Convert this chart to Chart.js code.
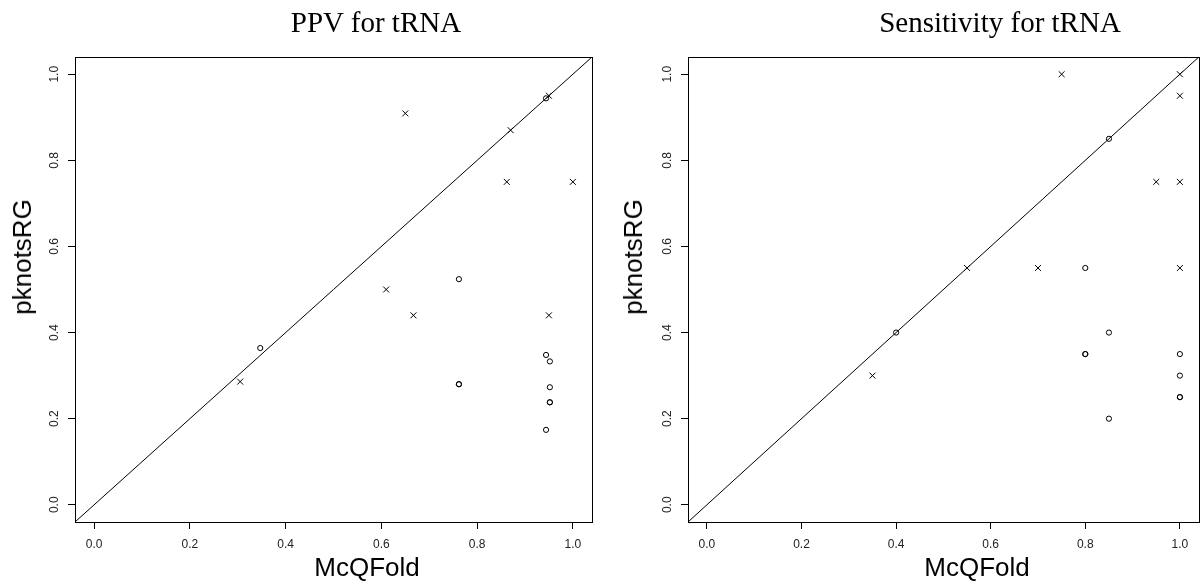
<!DOCTYPE html>
<html>
<head>
<meta charset="utf-8">
<script src="https://cdn.jsdelivr.net/npm/chart.js@4.4.1/dist/chart.umd.min.js"></script>
<style>
  body { margin: 0; background: #fff; }
  #wrap { position: relative; width: 1204px; height: 585px; overflow: hidden; }
  canvas { position: absolute; top: 0; }
  .title { position: absolute; font-family: "Liberation Serif", "Times New Roman", serif; font-size: 29px; line-height: 29px; white-space: nowrap; transform: translateX(-50%); color: #000; }
  .xlab { position: absolute; font-family: "Liberation Sans", Arial, sans-serif; font-size: 26px; line-height: 26px; white-space: nowrap; transform: translateX(-50%); color: #000; }
  .ylab { position: absolute; font-family: "Liberation Sans", Arial, sans-serif; font-size: 26px; line-height: 26px; white-space: nowrap; transform: translate(-50%, -50%) rotate(-90deg); color: #000; }
</style>
</head>
<body>
<div id="wrap">
  <canvas id="ppvChart" width="602" height="585" style="left:0"></canvas>
  <canvas id="sensChart" width="602" height="585" style="left:602px"></canvas>
  <div class="title" style="left:376px; top:8px">PPV for tRNA</div>
  <div class="title" style="left:1000px; top:8px">Sensitivity for tRNA</div>
  <div class="xlab" style="left:367px; top:554px">McQFold</div>
  <div class="xlab" style="left:977px; top:554px">McQFold</div>
  <div class="ylab" style="left:22px; top:257px">pknotsRG</div>
  <div class="ylab" style="left:633px; top:257px">pknotsRG</div>
</div>
<script>
// axis setup (R style: 4% expansion around 0..1)
const axisMin = -0.04;
const axisMax = 1.04;
const tickValues = [0, 0.2, 0.4, 0.6, 0.8, 1.0];
const tickLabels = ['0.0', '0.2', '0.4', '0.6', '0.8', '1.0'];

// PPV panel
const ppvCrossX = [0.305, 0.65, 0.87, 0.95, 0.862, 1.0, 0.61, 0.667, 0.95];
const ppvCrossY = [0.286, 0.909, 0.87, 0.95, 0.75, 0.75, 0.5, 0.44, 0.44];
const ppvCircleX = [0.347, 0.944, 0.762, 0.762, 0.762, 0.944, 0.952, 0.952, 0.952, 0.952, 0.944];
const ppvCircleY = [0.364, 0.944, 0.524, 0.28, 0.28, 0.348, 0.333, 0.273, 0.238, 0.238, 0.174];

// Sensitivity panel
const sensCrossX = [0.35, 0.55, 0.7, 0.75, 1.0, 1.0, 0.95, 1.0, 1.0];
const sensCrossY = [0.3, 0.55, 0.55, 1.0, 1.0, 0.95, 0.75, 0.75, 0.55];
const sensCircleX = [0.4, 0.85, 0.8, 0.8, 0.8, 0.85, 0.85, 1.0, 1.0, 1.0, 1.0];
const sensCircleY = [0.4, 0.85, 0.55, 0.35, 0.35, 0.4, 0.2, 0.35, 0.3, 0.25, 0.25];

const tickFont = { family: '"Liberation Sans", Arial, sans-serif', size: 12 };

function toPoints(xs, ys) {
    return xs.map((x, i) => ({ x: x, y: ys[i] }));
}

// box round the plot region + rotated y tick labels
const rBoxPlugin = {
    id: 'rBox',
    afterDraw(chart) {
        const { ctx, chartArea: a } = chart;
        ctx.save();
        ctx.strokeStyle = '#000';
        ctx.lineWidth = 1;
        ctx.strokeRect(Math.round(a.left) + 0.5, Math.round(a.top) + 0.5,
            Math.round(a.right - a.left), Math.round(a.bottom - a.top));

        const yScale = chart.scales.y;
        ctx.fillStyle = '#222';
        ctx.font = `${tickFont.size}px ${tickFont.family}`;
        ctx.textAlign = 'center';
        ctx.textBaseline = 'middle';
        tickValues.forEach((v, i) => {
            const py = yScale.getPixelForValue(v);
            ctx.save();
            ctx.translate(a.left - 20, py);
            ctx.rotate(-Math.PI / 2);
            ctx.fillText(tickLabels[i], 0, 0);
            ctx.restore();
        });
        ctx.restore();
    }
};

function makePanel(id, crossX, crossY, circleX, circleY, leftWidth, rightPad) {
    const ctx = document.getElementById(id).getContext('2d');
    return new Chart(ctx, {
        type: 'scatter',
        data: {
            datasets: [
                {
                    // y = x reference line
                    data: [{ x: axisMin, y: axisMin }, { x: axisMax, y: axisMax }],
                    showLine: true,
                    borderColor: '#000',
                    borderWidth: 1,
                    pointRadius: 0
                },
                {
                    data: toPoints(crossX, crossY),
                    pointStyle: 'crossRot',
                    pointRadius: 4.2,
                    pointBorderWidth: 1,
                    pointBorderColor: '#000',
                    pointBackgroundColor: 'transparent'
                },
                {
                    data: toPoints(circleX, circleY),
                    pointStyle: 'circle',
                    pointRadius: 2.6,
                    pointBorderWidth: 1,
                    pointBorderColor: '#000',
                    pointBackgroundColor: 'transparent'
                }
            ]
        },
        options: {
            responsive: false,
            animation: false,
            devicePixelRatio: 1,
            layout: { padding: { left: 0, top: 57, right: rightPad, bottom: 0 } },
            plugins: { legend: { display: false }, tooltip: { enabled: false } },
            scales: {
                x: {
                    type: 'linear',
                    min: axisMin,
                    max: axisMax,
                    afterBuildTicks: s => { s.ticks = tickValues.map(v => ({ value: v })); },
                    afterFit: s => { s.height = 63; },
                    border: { display: false },
                    grid: { drawOnChartArea: false, drawTicks: true, tickLength: 7, color: '#000', lineWidth: 1 },
                    ticks: {
                        callback: (v, i) => tickLabels[i],
                        font: tickFont,
                        color: '#222',
                        padding: 8,
                        maxRotation: 0
                    }
                },
                y: {
                    type: 'linear',
                    min: axisMin,
                    max: axisMax,
                    afterBuildTicks: s => { s.ticks = tickValues.map(v => ({ value: v })); },
                    afterFit: s => { s.width = leftWidth; },
                    border: { display: false },
                    grid: { drawOnChartArea: false, drawTicks: true, tickLength: 7, color: '#000', lineWidth: 1 },
                    ticks: { display: false }
                }
            }
        },
        plugins: [rBoxPlugin]
    });
}

makePanel('ppvChart', ppvCrossX, ppvCrossY, ppvCircleX, ppvCircleY, 75, 10);
makePanel('sensChart', sensCrossX, sensCrossY, sensCircleX, sensCircleY, 86, 2);
</script>
</body>
</html>
